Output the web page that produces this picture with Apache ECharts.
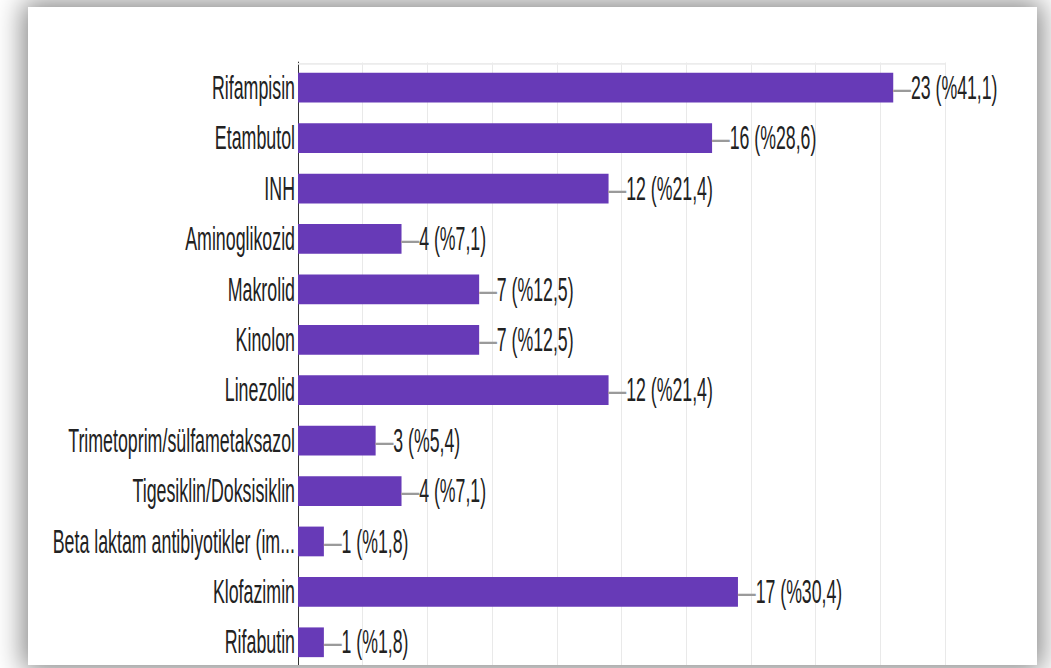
<!DOCTYPE html>
<html>
<head>
<meta charset="utf-8">
<script src="https://cdn.jsdelivr.net/npm/echarts@6/dist/echarts.min.js"></script>
<style>
  html, body { margin:0; padding:0; background:#ffffff; width:1051px; height:668px; overflow:hidden; }
  #frame { position:absolute; left:28px; top:7px; width:1009px; height:658px; background:#ffffff;
           overflow:hidden; box-shadow: 0 0 26px 5px rgba(0,0,0,0.48); }
  #chart { position:absolute; left:-28px; top:-7px; width:1051px; height:361px;
           transform: scaleY(1.8504); transform-origin: 0 0; }
</style>
</head>
<body>
<div id="frame"><div id="chart"></div></div>
<script>
const categories = [
  'Rifampisin', 'Etambutol', 'INH', 'Aminoglikozid', 'Makrolid', 'Kinolon',
  'Linezolid', 'Trimetoprim/sülfametaksazol', 'Tigesiklin/Doksisiklin',
  'Beta laktam antibiyotikler (im...', 'Klofazimin', 'Rifabutin'
];
const counts = [23, 16, 12, 4, 7, 7, 12, 3, 4, 1, 17, 1];
const percents = ['41,1', '28,6', '21,4', '7,1', '12,5', '12,5', '21,4', '5,4', '7,1', '1,8', '30,4', '1,8'];

const FONT = '"Liberation Sans", Arial, sans-serif';
const chart = echarts.init(document.getElementById('chart'), null, { renderer: 'svg' });
chart.setOption({
  animation: false,
  grid: { left: 298, right: 106, top: 33.78, height: 326.95, containLabel: false },
  xAxis: {
    type: 'value', position: 'top', min: 0, max: 25, interval: 2.5,
    axisLabel: { show: false }, axisTick: { show: false },
    axisLine: { show: true, lineStyle: { color: '#ececec', width: 1 } },
    splitLine: { show: true, lineStyle: { color: '#e9e9e9', width: 1 } }
  },
  yAxis: {
    type: 'category', data: categories, inverse: true,
    axisTick: { show: false },
    axisLine: { show: true, lineStyle: { color: '#333333', width: 1 } },
    axisLabel: { margin: 3, color: '#222222', fontSize: 17.8, fontFamily: FONT }
  },
  series: [{
    type: 'bar', data: counts, barCategoryGap: '41%',
    itemStyle: { color: '#673ab7' },
    label: {
      show: true, position: 'right', distance: 0,
      fontFamily: FONT, fontSize: 17.7,
      formatter: p => '{d|—}{t|' + counts[p.dataIndex] + ' (%' + percents[p.dataIndex] + ')}',
      rich: {
        d: { color: '#9a9a9a', fontSize: 17.7, fontFamily: FONT },
        t: { color: '#222222', fontSize: 17.7, fontFamily: FONT }
      }
    }
  }]
});
</script>
</body>
</html>
